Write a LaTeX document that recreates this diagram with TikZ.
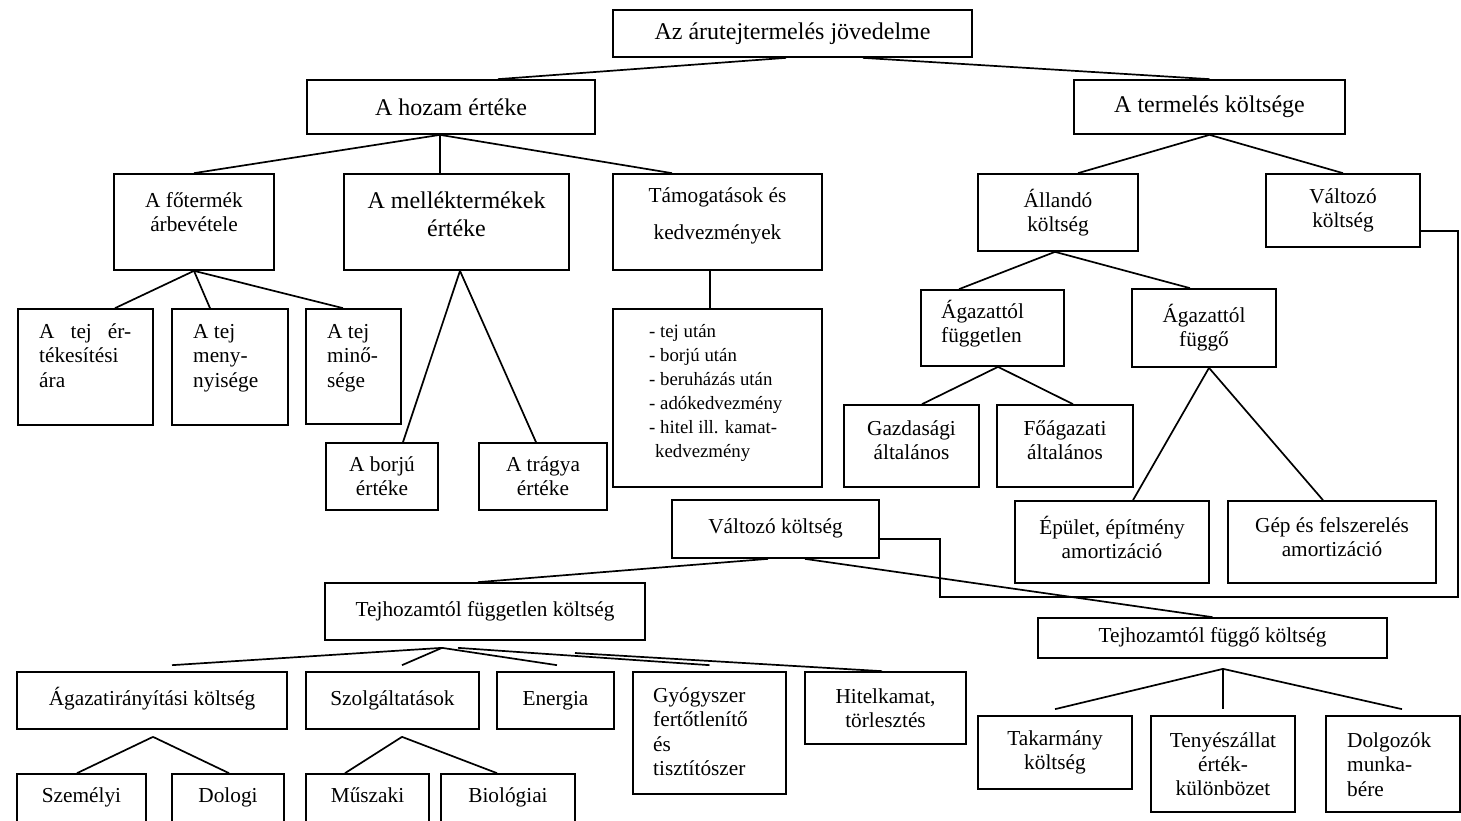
\documentclass[tikz,border=0pt]{standalone}
\usepackage{fontspec}
\setmainfont{Liberation Serif}
\usetikzlibrary{calc}

\tikzset{
  bx/.style 2 args={draw, line width=1.7pt, inner sep=0pt, minimum width=#1, minimum height=#2},
  big/.style={font=\fontsize{24}{28}\selectfont, align=center},
  med/.style={font=\fontsize{21.3}{24}\selectfont, align=center},
  one/.style={text height=14pt, text depth=5pt},
  lft/.style={font=\fontsize{21.3}{24.5}\selectfont, align=left, inner sep=0pt, anchor=base west},
  lst/.style={font=\fontsize{18.8}{24}\selectfont, align=left, inner sep=0pt, anchor=base west},
  link/.style={line width=1.7pt},
}

\begin{document}
\begin{tikzpicture}[x=1pt, y=-1pt]

  \useasboundingbox (0,0) rectangle (1461,820);
  \clip (0,0) rectangle (1461,820);

  % Top of the tree
  \node[bx={359}{47}, big] (top)    at (792.5,33.5) {Az árutejtermelés jövedelme};
  \node[bx={288}{54}, big] (hozam)  at (451,107)    {A hozam értéke};
  \node[bx={271}{54}, big] (termel) at (1209.5,107) {A termelés költsége};

  % A hozam értéke
  \node[bx={160}{96}] (fotermek) at (194,222) {};
  \node[med] (fotermek-t) at (194,212) {A főtermék\\árbevétele};
  \node[bx={225}{96}] (mellek) at (456.5,222) {};
  \node[big] (mellek-t) at (456.5,214) {A melléktermékek\\értéke};
  \node[bx={209}{96}] (tamog) at (717.5,222) {};
  \node[med, font=\fontsize{21.3}{37}\selectfont] (tamog-t) at (717.5,216) {Támogatások és\\kedvezmények};

  % (base west of a text block is its last line)
  \node[bx={135}{116}] (tejert) at (85.5,367) {};
  \node[lft] (tejert-t) at (39,387) {\makebox[92pt][s]{A tej ér-}\\tékesítési\\ára};
  \node[bx={116}{116}] (menny) at (230,367) {};
  \node[lft] (menny-t) at (193,387) {A tej\\meny-\\nyisége};
  \node[bx={95}{115}] (minoseg) at (353.5,366.5) {};
  \node[lft] (minoseg-t) at (327,387) {A tej\\minő-\\sége};

  \node[bx={112}{67}, med] (borju)  at (382,476.5) {A borjú\\értéke};
  \node[bx={128}{67}, med] (tragya) at (543,476.5) {A trágya\\értéke};

  \node[bx={209}{178}] (lista) at (717.5,398) {};
  \node[lst] (lista-t) at (649,457) {- tej után\\- borjú után\\- beruházás után\\- adókedvezmény\\- hitel ill. kamat-\\\hspace*{6pt}kedvezmény};

  % A termelés költsége
  \node[bx={160}{77}, med] (allando) at (1058,212.5) {Állandó\\költség};
  \node[bx={154}{73}, med] (valt1)   at (1343,210.5) {Változó\\költség};

  \node[bx={143}{76}] (fuggetlen) at (992.5,328) {};
  \node[lft] (fuggetlen-t) at (941,342.5) {Ágazattól\\független};
  \node[bx={144}{78}, med] (fuggo) at (1204,328) {Ágazattól\\függő};

  \node[bx={135}{82}] (gazd) at (911.5,446) {};
  \node[med] (gazd-t) at (911.5,440) {Gazdasági\\általános};
  \node[bx={136}{82}] (foag) at (1065,446) {};
  \node[med] (foag-t) at (1065,440) {Főágazati\\általános};

  \node[bx={194}{82}] (epulet) at (1112,542) {};
  \node[med] (epulet-t) at (1112,537) {Épület, építmény\\amortizáció};
  \node[bx={208}{82}] (gep) at (1332,542) {};
  \node[med] (gep-t) at (1332,537) {Gép és felszerelés\\amortizáció};

  % Változó költség, lower tree
  \node[bx={207}{58}, med, one] (valt2)  at (775.5,529)  {Változó költség};
  \node[bx={320}{57}, med, one] (thfgtl) at (485,611.5)  {Tejhozamtól független költség};
  \node[bx={349}{40}, med, one] (thfgg)  at (1212.5,638) {Tejhozamtól függő költség};

  \node[bx={270}{57}, med, one] (agazatir) at (152,700.5)   {Ágazatirányítási költség};
  \node[bx={173}{57}, med, one] (szolg)    at (392.5,700.5) {Szolgáltatások};
  \node[bx={117}{57}, med, one] (energia)  at (555.5,700.5) {Energia};
  \node[bx={153}{122}]          (gyogy)    at (709.5,733)   {};
  \node[lft] (gyogy-t) at (653,775.5) {Gyógyszer\\fertőtlenítő\\és\\tisztítószer};
  \node[bx={161}{72}, med]      (hitel)    at (885.5,708)   {Hitelkamat,\\törlesztés};

  \node[bx={129}{48}, med, one] (szemelyi) at (81.5,798)  {Személyi};
  \node[bx={112}{48}, med, one] (dologi)   at (228,798)   {Dologi};
  \node[bx={123}{48}, med, one] (muszaki)  at (367.5,798) {Műszaki};
  \node[bx={134}{48}, med, one] (bio)      at (508,798)   {Biológiai};

  \node[bx={154}{73}, med] (takar)   at (1055,752.5) {Takarmány\\költség};
  \node[bx={144}{96}, med] (tenyesz) at (1223,764)   {Tenyészállat\\érték-\\különbözet};
  \node[bx={134}{96}]      (dolg)    at (1393,764)   {};
  \node[lft] (dolg-t) at (1347,796) {Dolgozók\\munka-\\bére};

  % links, upper part
  \draw[link] ([xshift=-6.5]top.south) -- ([xshift=47]hozam.north);
  \draw[link] ([xshift=70.5]top.south) -- (termel.north);

  \coordinate (hozamJ) at ([xshift=-11]hozam.south);
  \foreach \t/\s in {fotermek/0, mellek/-16.5, tamog/-45.5}
    \draw[link] (hozamJ) -- ([xshift=\s]\t.north);
  \foreach \t/\s in {tejert/29.5, menny/-20, minoseg/-10.5}
    \draw[link] (fotermek.south) -- ([xshift=\s]\t.north);
  \foreach \t/\s in {borju/21, tragya/-7}
    \draw[link] ([xshift=3.5]mellek.south) -- ([xshift=\s]\t.north);
  \draw[link] ([xshift=-7.5]tamog.south) -- ([xshift=-7.5]lista.north);

  \foreach \t/\s in {allando/20, valt1/0}
    \draw[link] (termel.south) -- ([xshift=\s]\t.north);
  \foreach \t/\s in {fuggetlen/-33.5, fuggo/-14}
    \draw[link] ([xshift=-3]allando.south) -- ([xshift=\s]\t.north);
  \foreach \t/\s in {gazd/10.5, foag/8}
    \draw[link] ([xshift=5.5]fuggetlen.south) -- ([xshift=\s]\t.north);
  \foreach \t/\s in {epulet/21, gep/-9}
    \draw[link] ([xshift=5]fuggo.south) -- ([xshift=\s]\t.north);

  % the upper Változó leads to the lower one
  \coordinate (bendR) at (1458,597);
  \coordinate (bendL) at (940,539);
  \draw[link] ([yshift=-20.5]valt1.east) -| (bendR) -| (bendL) -- ([yshift=-10]valt2.east);

  % links, lower part
  \draw[link] ([xshift=-7.5]valt2.south) -- ([xshift=-7]thfgtl.north);
  \draw[link] ([xshift=29.5]valt2.south) -- (thfgg.north);

  \coordinate (thfgtlJ) at ([xshift=-43,yshift=-7]thfgtl.south);
  \foreach \t/\s in {agazatir/20, szolg/9.5, energia/1.5}
    \draw[link] (thfgtlJ) -- ([xshift=\s,yshift=6]\t.north);
  \draw[link] ([xshift=16]thfgtlJ) -- ([yshift=6]gyogy.north);
  \coordinate (hitelL) at (575,653);
  \draw[link] (hitelL) -- ([xshift=-3.5]hitel.north);

  \coordinate (agazatirJ) at ([xshift=1,yshift=-7]agazatir.south);
  \foreach \t/\s in {szemelyi/-4.5, dologi/1}
    \draw[link] (agazatirJ) -- ([xshift=\s]\t.north);
  \coordinate (szolgJ) at ([xshift=9.5,yshift=-7]szolg.south);
  \foreach \t/\s in {muszaki/-22.5, bio/-11}
    \draw[link] (szolgJ) -- ([xshift=\s]\t.north);

  \coordinate (thfggJ) at ([xshift=10.5,yshift=-10]thfgg.south);
  \foreach \t/\s in {takar/0, tenyesz/0, dolg/9}
    \draw[link] (thfggJ) -- ([xshift=\s,yshift=6]\t.north);

\end{tikzpicture}
\end{document}
